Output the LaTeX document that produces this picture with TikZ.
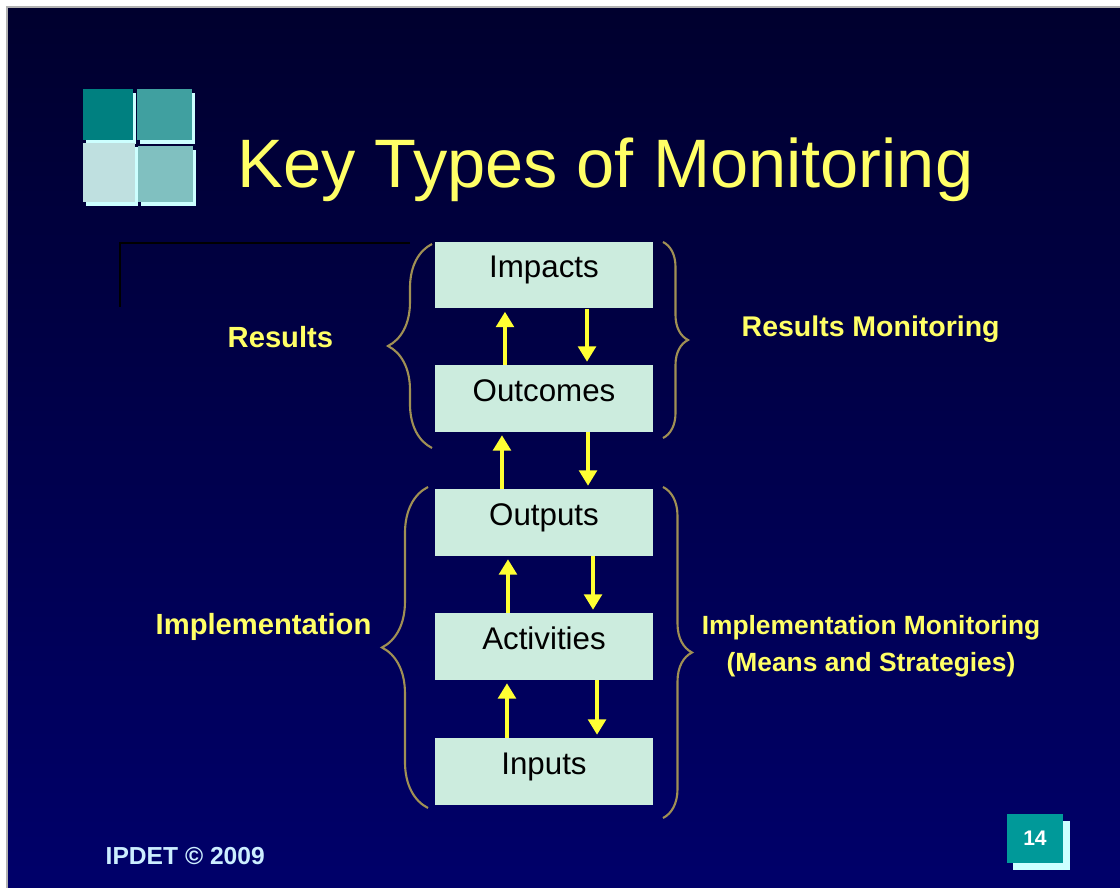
\documentclass[tikz,border=0pt]{standalone}
\usepackage{fontspec}
\setmainfont{Liberation Sans}
\usetikzlibrary{arrows.meta,decorations.pathreplacing}
\definecolor{slidetop}{RGB}{0,0,46}
\definecolor{slidebottom}{RGB}{0,0,106}
\definecolor{titleyellow}{RGB}{255,255,102}
\definecolor{arrowyellow}{RGB}{255,255,51}
\definecolor{boxmint}{RGB}{204,236,222}
\definecolor{braceolive}{RGB}{160,144,84}
\definecolor{footcyan}{RGB}{204,238,255}
\definecolor{tealA}{RGB}{0,128,128}
\definecolor{tealB}{RGB}{64,160,160}
\definecolor{tealC}{RGB}{191,224,224}
\definecolor{tealD}{RGB}{128,192,192}
\definecolor{tealshadow}{RGB}{204,255,255}
\definecolor{pageteal}{RGB}{0,153,153}
\tikzset{
	stagebox/.style={rectangle,fill=boxmint,minimum width=2.18cm,minimum height=0.66cm,inner sep=0pt,text height=0.24cm,text depth=0.18cm,font=\fontsize{8.9}{10}\selectfont},
	flowarrow/.style={draw=arrowyellow,line width=1.1pt,shorten >=0.03cm,-{Triangle[width=5pt,length=4.4pt]}},
	bracket/.style={draw=braceolive,line width=0.6pt,decorate},
	yellowlabel/.style={text=titleyellow,anchor=base west,inner sep=0pt,font=\bfseries\fontsize{8.3}{10}\selectfont}
}
\begin{document}
\begin{tikzpicture}[x=0.01cm,y=-0.01cm]
			\useasboundingbox (0,0) rectangle (1120,888);
			\fill[top color=slidetop,bottom color=slidebottom] (7,7) rectangle (1120,888);
			\draw[gray!60,line width=0.3pt] (7,888) -- (7,7) -- (1120,7);
			\foreach \xa/\ya/\xb/\yb/\shade in {83/89/133/140/tealA,137/89/192/140/tealB,83/143/135/202/tealC,138/146/193/202/tealD}{
				\fill[tealshadow] (\xa+3,\ya+4) rectangle (\xb+3,\yb+4);
				\fill[\shade] (\xa,\ya) rectangle (\xb,\yb);
			}
			\node[anchor=base west,inner sep=0pt,text=titleyellow,font=\fontsize{19.5}{23}\selectfont] (title) at (237,188) {Key Types of Monitoring};
			\draw[black,line width=0.6pt] (410,243) -- (120,243) -- (120,307);
			\coordinate (c1) at (544,275);
			\coordinate (c2) at (544,398.5);
			\coordinate (c3) at (544,522.5);
			\coordinate (c4) at (544,646.5);
			\coordinate (c5) at (544,771.5);
			\node[stagebox] (impacts) at (c1) {Impacts};
			\node[stagebox] (outcomes) at (c2) {Outcomes};
			\node[stagebox] (outputs) at (c3) {Outputs};
			\node[stagebox] (activities) at (c4) {Activities};
			\node[stagebox] (inputs) at (c5) {Inputs};
			\foreach \upper/\lower/\upx/\downx in {impacts/outcomes/-0.39/0.43,outcomes/outputs/-0.42/0.44,outputs/activities/-0.36/0.49,activities/inputs/-0.37/0.53}{
				\draw[flowarrow] ([xshift=\upx cm]\lower.north) -- ([xshift=\upx cm]\upper.south);
				\draw[flowarrow] ([xshift=\downx cm]\upper.south) -- ([xshift=\downx cm]\lower.north);
			}
			\draw[bracket,decoration={brace,amplitude=0.44cm}] (432,448) -- (432,244);
			\draw[bracket,decoration={brace,amplitude=0.25cm}] (663,242) -- (663,438);
			\draw[bracket,decoration={brace,amplitude=0.46cm}] (428,808) -- (428,487);
			\draw[bracket,decoration={brace,amplitude=0.29cm}] (663,487) -- (663,818);
			\node[yellowlabel] (results) at (227,348) {Results};
			\node[yellowlabel,font=\bfseries\fontsize{8.1}{10}\selectfont] (resultsmon) at (741,337) {Results Monitoring};
			\node[yellowlabel] (impl) at (155,635) {Implementation};
			\node[yellowlabel,anchor=base,align=center,font=\bfseries\fontsize{7.5}{10.6}\selectfont] (implmon) at (871,672) {Implementation Monitoring\\(Means and Strategies)};
			\node[anchor=base west,inner sep=0pt,text=footcyan,font=\bfseries\fontsize{7}{8}\selectfont] (footer) at (105,865) {IPDET © 2009};
			\fill[tealshadow] (1013,821) rectangle (1070,870);
			\node[rectangle,fill=pageteal,minimum width=0.56cm,minimum height=0.49cm,inner sep=0pt,text=white,font=\bfseries\fontsize{6}{7}\selectfont] (pagenum) at (1035,838.5) {14};
		\end{tikzpicture}
\end{document}
